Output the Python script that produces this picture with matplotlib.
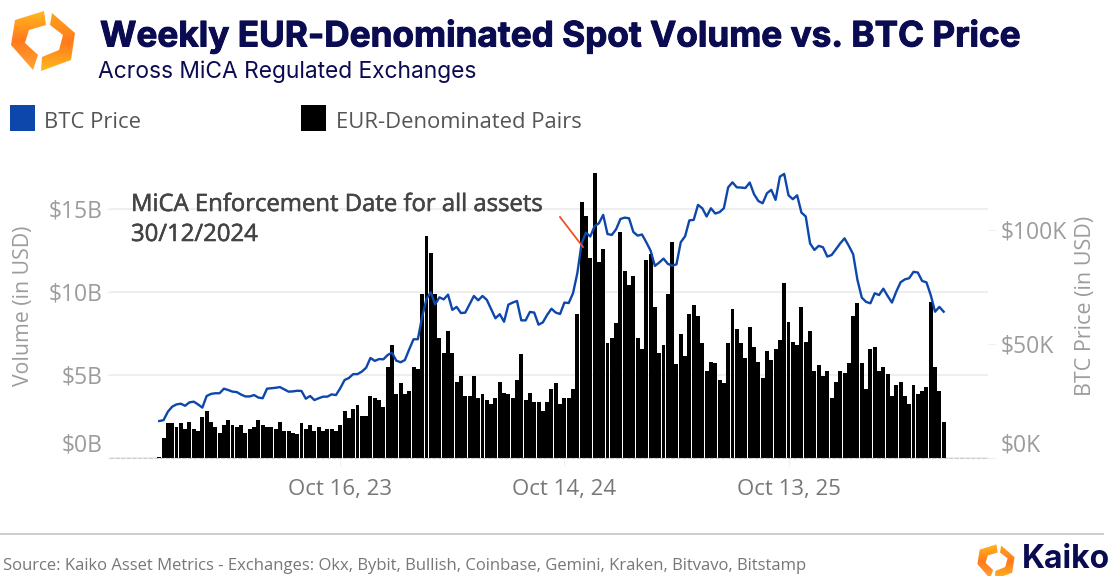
import numpy as np
import pandas as pd
import matplotlib
matplotlib.use('Agg')
import matplotlib.pyplot as plt
import matplotlib.patheffects as pe
from matplotlib.colors import LinearSegmentedColormap
from matplotlib.patches import Polygon, Rectangle
from matplotlib.transforms import ScaledTranslation

# Weekly EUR-pair spot volume, $B
volume = [
    0.06, 1.16, 2.07, 2.07, 1.83, 2.07, 1.73, 2.17, 1.73, 1.63, 2.47, 2.81, 2.17, 1.83, 1.51, 1.95,
    2.27, 1.95, 1.83, 1.95, 1.51, 1.73, 1.83, 2.27, 1.95, 1.83, 1.83, 1.73, 2.17, 1.63, 1.63, 1.51,
    1.41, 2.07, 1.73, 1.95, 1.63, 1.83, 1.63, 1.73, 1.73, 1.63, 1.95, 2.81, 2.37, 2.93, 3.15, 2.49,
    2.49, 3.71, 3.59, 3.47, 3.03, 5.48, 6.77, 3.82,
    4.48, 3.82, 4.04, 5.44, 5.32, 9.84, 13.35, 12.35, 9.84, 7.21, 6.33, 7.65, 6.33, 4.58, 4.90, 3.69,
    3.69, 4.90, 3.59, 3.82, 3.47, 3.25, 3.59, 4.58, 3.92, 3.82, 3.59, 4.68, 6.22, 3.47, 3.92, 3.37,
    3.37, 2.81, 3.37, 4.14, 4.48, 3.25, 3.59, 3.59, 4.14, 8.63, 15.42, 14.56, 12.03, 17.17, 11.81, 12.57,
    6.89, 7.21, 8.09, 13.57, 11.24, 10.38, 10.92, 7.21, 6.55, 11.91, 12.25, 9.08, 6.33, 6.77, 9.84, 13.01,
    5.66, 7.43,
    6.10, 8.63, 9.18, 8.53, 6.89, 5.24, 5.78, 5.68, 4.68, 4.48, 6.89, 8.96, 7.75, 6.89, 6.00, 7.87,
    6.67, 5.78, 4.80, 6.45, 5.88, 6.55, 7.09, 10.50, 8.19, 6.99, 6.77, 9.08, 6.99, 7.65, 5.24, 5.56,
    4.90, 5.24, 3.59, 4.58, 5.24, 5.12, 5.68, 8.53, 9.30, 5.68, 4.14, 6.55, 6.67, 5.24, 5.46, 5.02,
    3.69, 4.36, 4.58, 3.69, 3.25, 4.36, 3.82, 4.04, 4.26, 9.40, 5.46, 4.04, 2.15,
]

# BTC price, $K
btc_price = [
    16.1, 16.5, 20.2, 22.4, 23.4, 23.7, 22.8, 24.3, 24.6, 23.4, 22.0, 27.1, 28.0, 28.3, 28.3, 30.3,
    29.7, 29.0, 28.8, 27.7, 26.9, 26.9, 27.5, 26.4, 26.1, 30.3, 30.5, 30.7, 31.0, 30.0, 29.0, 29.1,
    29.4, 29.3, 25.9, 27.1, 25.3, 26.1, 26.8, 26.8, 27.8, 27.5, 30.5, 34.1, 35.0, 36.7, 36.7, 37.8,
    39.5, 43.8, 42.5, 43.3, 43.2, 45.1, 46.1, 42.6, 41.9, 42.9, 47.6, 52.0, 52.0, 61.9, 69.7, 72.6,
    67.3, 70.4, 69.5, 71.6, 64.9, 66.2, 63.5, 63.7, 67.3, 71.0, 69.1, 71.0, 69.3, 65.3, 61.2, 63.0,
    59.7, 67.2, 68.1, 68.8, 60.3, 60.3, 64.0, 63.7, 58.4, 59.4, 62.7, 65.4, 63.7, 63.1, 68.1, 67.9,
    72.2, 81.0, 94.1, 98.8, 97.1, 101.6, 102.9, 106.6, 98.2, 97.8, 100.3, 104.8, 105.4, 105.1, 99.1, 97.5,
    98.0, 94.6, 90.9, 84.2, 85.7, 87.4, 85.1, 84.3, 84.9, 94.6, 97.2, 104.2, 104.4, 111.0, 109.5, 105.9,
    109.5, 107.2, 107.8, 109.5, 118.7, 120.9, 118.7, 118.6, 118.4, 120.8, 115.7, 112.7, 111.7, 116.1, 117.6, 113.2,
    123.4, 124.6, 115.2, 113.5, 115.2, 107.6, 105.9, 94.1, 91.2, 93.0, 92.4, 88.3, 89.0, 91.5, 94.1, 96.3,
    93.0, 89.3, 78.0, 70.3, 68.4, 67.8, 72.2, 71.4, 74.2, 71.0, 68.1, 72.9, 77.0, 78.3, 78.8, 81.6,
    81.3, 77.6, 77.0, 71.4, 64.1, 66.2, 64.1,
]

first_week = '2022-12-26'
date_ticks = ['2023-10-16', '2024-10-14', '2025-10-13']
date_tick_labels = ['Oct 16, 23', 'Oct 14, 24', 'Oct 13, 25']
volume_ticks = [0, 5, 10, 15]
volume_tick_labels = ['$0B', '$5B', '$10B', '$15B']
price_ticks = [0, 50, 100]
price_tick_labels = ['$0K', '$50K', '$100K']

plt.rcParams['font.family'] = ['Open Sans', 'DejaVu Sans']

NAVY = '#0b0b52'
BLUE = '#0d47ab'
GRAY = '#9c9c9c'
W, H = 1109, 576


def draw_logo(ov, dx, dy, s):
    # two chevrons with a vertical gradient, clipped out of an image
    left = [(44, 11), (15, 20), (11, 45), (33, 70), (38, 55), (25, 43), (29, 30), (46, 25)]
    right = [(52, 13), (75, 33), (71, 60), (41, 71), (42, 57), (59, 50), (63, 35), (50, 25)]
    ramps = [['#ffb81f', '#ff7a1c', '#ffa435'], ['#ffa21f', '#ff7a1c', '#ffb81f']]
    for pts, ramp in zip([left, right], ramps):
        pts = [(dx + x * s, dy + y * s) for x, y in pts]
        xs, ys = zip(*pts)
        cmap = LinearSegmentedColormap.from_list('logo', ramp)
        im = ov.imshow(np.linspace(0, 1, 64).reshape(-1, 1), cmap=cmap, aspect='auto',
                       extent=(min(xs), max(xs), max(ys), min(ys)))
        patch = Polygon(pts, closed=True, transform=ov.transData, fc='none', ec='none')
        ov.add_patch(patch)
        im.set_clip_path(patch)


fig = plt.figure(figsize=(W / 100, H / 100), dpi=100)
ax = fig.add_axes([110 / W, (H - 457.7) / H, 878 / W, 297.7 / H])

# Bars on the left axis, price on the right one
weeks = pd.date_range(first_week, periods=len(volume), freq='7D')
ax.bar(weeks, volume, width=6.4, color='black', linewidth=0)
ax.set_ylim(0, 17.93)
ax.set_xlim(weeks[0] - pd.Timedelta(days=80), weeks[0] + pd.Timedelta(days=1346))
ax.grid(axis='y', color='#eeeeee', lw=1.5)
ax.set_axisbelow(True)
for side in ['top', 'left', 'right']:
    ax.spines[side].set_visible(False)
ax.spines['bottom'].set_color('#cccccc')
ax.spines['bottom'].set_linestyle((0, (3, 2)))
ax.spines['bottom'].set_linewidth(0.8)

ax.set_xticks(pd.to_datetime(date_ticks))
ax.set_xticklabels(date_tick_labels)
ax.tick_params(axis='x', length=6, color='#f0f0f0', labelcolor='#777777', labelsize=16, pad=9)
ax.set_yticks(volume_ticks)
ax.set_yticklabels(volume_tick_labels)
ax.tick_params(axis='y', length=2.2, color='#eeeeee', labelcolor=GRAY, labelsize=16.5, pad=3)

ax2 = ax.twinx()
ax2.plot(weeks, btc_price, color=BLUE, lw=1.7)
ax2.set_ylim(0, 130.7)
ax2.set_yticks(price_ticks)
ax2.set_yticklabels(price_tick_labels)
ax2.tick_params(axis='y', length=5.8, color='#f0f0f0', labelcolor=GRAY, labelsize=16.5, pad=3.5)
for side in ['top', 'left', 'right', 'bottom']:
    ax2.spines[side].set_visible(False)

# The zero labels sit above their gridline
lift = ScaledTranslation(0, 11.2 / 72, fig.dpi_scale_trans)
tick = ax.yaxis.get_major_ticks()[0]
tick.label1.set_transform(tick.label1.get_transform() + lift)
tick = ax2.yaxis.get_major_ticks()[0]
tick.label2.set_transform(tick.label2.get_transform() + lift)

# Overlay in pixel coordinates for title, legend, notes and footer
ov = fig.add_axes([0, 0, 1, 1], facecolor='none')
ov.set_axis_off()
draw_logo(ov, 0, 0, 1)
draw_logo(ov, 971, 538, 0.58)
ov.set_xlim(0, W)
ov.set_ylim(H, 0)

ov.text(100, 36, 'Weekly EUR-Denominated Spot Volume vs. BTC Price', color=NAVY,
        fontsize=25.3, fontweight='bold', family=['Inter', 'DejaVu Sans'], va='center',
        path_effects=[pe.withStroke(linewidth=0.7, foreground=NAVY)])
ov.text(98, 72, 'Across MiCA Regulated Exchanges', color=NAVY, fontsize=16.4, va='center',
        family=['Inter', 'DejaVu Sans'])

ov.add_patch(Rectangle((9.5, 105), 25, 25.5, color=BLUE, lw=0))
ov.text(44, 122, 'BTC Price', color='#555555', fontsize=15.8, va='center')
ov.add_patch(Rectangle((300.5, 105), 25, 25.5, color='black', lw=0))
ov.text(336, 122, 'EUR-Denominated Pairs', color='#555555', fontsize=15.8, va='center')

note_fx = [pe.withStroke(linewidth=0.4, foreground='#444444')]
ov.text(131, 205, 'MiCA Enforcement Date for all assets', color='#444444', fontsize=17.2,
        va='center', path_effects=note_fx)
ov.text(131, 235, '30/12/2024', color='#444444', fontsize=17.2, va='center', path_effects=note_fx)
ov.plot([560, 583], [217, 247], color='#f2502a', lw=1.3)

ov.text(24, 306, 'Volume (in USD)', color=GRAY, fontsize=15.3, rotation=90, ha='center', va='center')
ov.text(1086, 306, 'BTC Price (in USD)', color=GRAY, fontsize=15.5, rotation=90, ha='center', va='center')

ov.plot([0, 1103], [533.5, 533.5], color='#cccccc', lw=1.4)
ov.text(3, 566, 'Source: Kaiko Asset Metrics - Exchanges: Okx, Bybit, Bullish, Coinbase, Gemini, Kraken, Bitvavo, Bitstamp',
        color='#777777', fontsize=12, va='center')
ov.text(1022, 560, 'Kaiko', color=NAVY, fontsize=23, fontweight='bold', va='center',
        family=['Inter', 'DejaVu Sans'])

plt.savefig('out.png', dpi=100)
plt.close()
